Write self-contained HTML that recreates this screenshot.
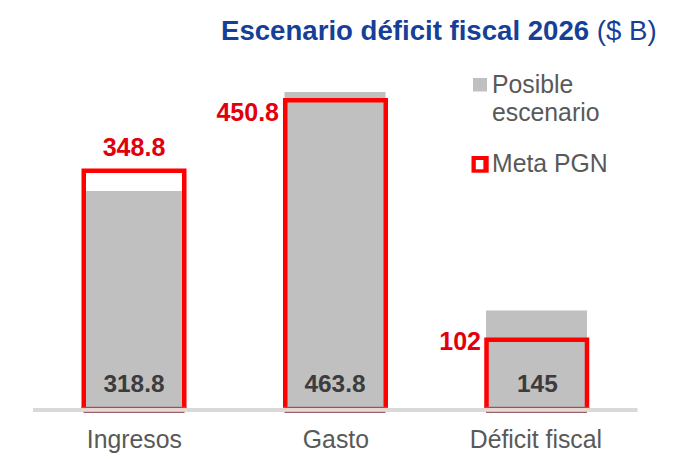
<!DOCTYPE html>
<html>
<head>
<meta charset="utf-8">
<style>
html,body{margin:0;padding:0;background:#fff;width:700px;height:459px;overflow:hidden;}
svg{display:block;font-family:"Liberation Sans",sans-serif;}
</style>
</head>
<body>
<svg width="700" height="459" viewBox="0 0 700 459">
  <rect x="0" y="0" width="700" height="459" fill="#ffffff"/>
  <!-- title -->
  <text x="221" y="39.8" font-size="27.6" font-weight="bold" fill="#173f98">Escenario déficit fiscal 2026 <tspan font-weight="normal">($ B)</tspan></text>

  <!-- gray bars -->
  <rect x="83.5" y="191" width="101" height="217" fill="#c0c0c0"/>
  <rect x="284.5" y="92" width="101" height="316" fill="#c0c0c0"/>
  <rect x="486" y="310.5" width="101" height="97.5" fill="#c0c0c0"/>

  <!-- axis -->
  <rect x="33" y="408" width="604.5" height="4" fill="#d9d9d9"/>

  <!-- red boxes (3 sides) -->
  <g fill="none" stroke="#ff0000" stroke-width="4.5">
    <path d="M83.75 408 V170.75 H184.25 V408"/>
    <path d="M285.25 408 V100.25 H385.75 V408"/>
    <path d="M486.5 408 V339.75 H587 V408"/>
  </g>
  <!-- bottom edges blended with axis -->
  <g>
    <rect x="81.5" y="406.8" width="105" height="1.4" fill="#a84c5c"/>
    <rect x="81.5" y="408.2" width="105" height="3.6" fill="#ead9d2"/>
    <rect x="83.5" y="411.8" width="101" height="1.2" fill="#98606a"/>
    <rect x="283" y="406.8" width="105" height="1.4" fill="#a84c5c"/>
    <rect x="283" y="408.2" width="105" height="3.6" fill="#ead9d2"/>
    <rect x="284.5" y="411.8" width="101" height="1.2" fill="#98606a"/>
    <rect x="484.25" y="406.8" width="105" height="1.4" fill="#a84c5c"/>
    <rect x="484.25" y="408.2" width="105" height="3.6" fill="#ead9d2"/>
    <rect x="486" y="411.8" width="101" height="1.2" fill="#98606a"/>
  </g>

  <!-- labels -->
  <g font-size="25" font-weight="bold" fill="#e2000c">
    <text x="134" y="156" text-anchor="middle">348.8</text>
    <text x="279" y="121" text-anchor="end">450.8</text>
    <text x="481" y="350" text-anchor="end">102</text>
  </g>
  <g font-size="24.4" font-weight="bold" fill="#3c3c3c" text-anchor="middle">
    <text x="134" y="392">318.8</text>
    <text x="335" y="392">463.8</text>
    <text x="537.4" y="392">145</text>
  </g>
  <g font-size="24.8" fill="#595959" text-anchor="middle" transform="translate(0,447.6) scale(1,1.06) translate(0,-447.6)">
    <text x="134.3" y="447.6">Ingresos</text>
    <text x="335.9" y="447.6">Gasto</text>
    <text x="535.9" y="447.6">Déficit fiscal</text>
  </g>

  <!-- legend -->
  <rect x="473" y="78" width="14" height="13.5" fill="#c0c0c0"/>
  <g font-size="24.8" fill="#595959">
    <text x="492" y="93.5" transform="translate(0,93.5) scale(1,1.05) translate(0,-93.5)">Posible</text>
    <text x="492" y="121.4" transform="translate(0,121.4) scale(1,1.05) translate(0,-121.4)">escenario</text>
    <text x="492" y="172.2" transform="translate(0,172.2) scale(1,1.05) translate(0,-172.2)">Meta PGN</text>
  </g>
  <rect x="471.5" y="156" width="17.2" height="16.7" fill="#ff0000"/>
  <rect x="475.8" y="160" width="7.6" height="9.3" fill="#ffffff"/>
</svg>
</body>
</html>
